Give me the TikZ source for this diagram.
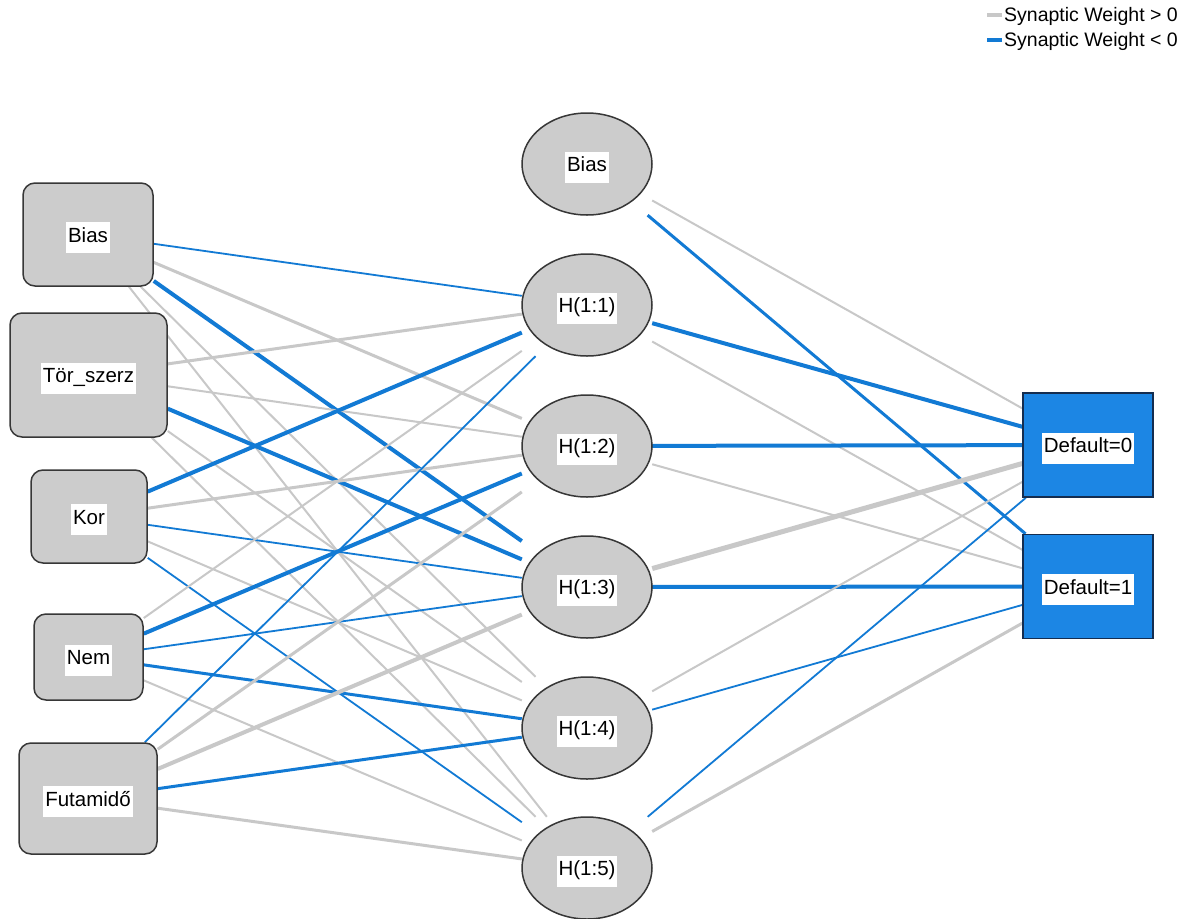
\documentclass[tikz,border=0pt]{standalone}
\usepackage{fontspec}
\setmainfont{Liberation Sans}
\usetikzlibrary{shapes.geometric}
\definecolor{nodegray}{RGB}{204,204,204}
\definecolor{linegray}{RGB}{200,200,200}
\definecolor{wblue}{RGB}{18,122,212}
\definecolor{boxblue}{RGB}{28,134,228}
\definecolor{edgedark}{RGB}{55,55,55}
\definecolor{boxedge}{RGB}{20,45,80}
\newcommand{\wlbl}[1]{{\setlength{\fboxsep}{2pt}\raisebox{-3pt}[\height][\depth]{\colorbox{white}{\rule[-9pt]{0pt}{27pt}#1}}}}
\pgfdeclarelayer{bg}
\pgfsetlayers{bg,main}
\tikzset{
  inbox/.style={rectangle, draw=edgedark, line width=1.5pt, fill=nodegray, rounded corners=12pt, inner sep=0pt},
  hidbox/.style={rectangle, minimum width=130pt, minimum height=102pt, inner sep=0pt},
  hidshape/.style={ellipse, draw=edgedark, line width=1.5pt, fill=nodegray, minimum width=130pt, minimum height=102pt, inner sep=0pt},
  outbox/.style={rectangle, draw=boxedge, line width=1.5pt, fill=boxblue, minimum width=130pt, minimum height=104pt, inner sep=0pt},
  posA/.style={draw=linegray, line width=2pt},
  posB/.style={draw=linegray, line width=3pt},
  posC/.style={draw=linegray, line width=4pt},
  posD/.style={draw=linegray, line width=5pt},
  negA/.style={draw=wblue, line width=1.8pt},
  negB/.style={draw=wblue, line width=3pt},
  negC/.style={draw=wblue, line width=4pt},
  legtext/.style={anchor=base west, inner sep=0pt, font=\fontsize{19.5}{22}\selectfont}
}
\begin{document}
\begin{tikzpicture}[x=1pt, y=-1pt, font=\fontsize{20.5}{24}\selectfont]
\useasboundingbox (0,0) rectangle (1195,919);

% input layer
\node[inbox, minimum width=130pt, minimum height=103pt] (i0) at (88,234.5) {\wlbl{Bias}};
\node[inbox, minimum width=157pt, minimum height=124pt] (i1) at (88.5,375) {\wlbl{Tör\_szerz}};
\node[inbox, minimum width=116pt, minimum height=93pt] (i2) at (89,516.5) {\wlbl{Kor}};
\node[inbox, minimum width=109pt, minimum height=86pt] (i3) at (88.5,657) {\wlbl{Nem}};
\node[inbox, minimum width=138pt, minimum height=111pt] (i4) at (88,798.5) {\wlbl{Futamidő}};

% hidden layer (clipping boxes and visible ellipses)
\foreach \k/\yy in {0/164,1/305,2/446,3/587,4/728,5/868} {
  \node[hidbox] (hb\k) at (587,\yy) {};
}
\node[hidshape] (h0) at (hb0) {\wlbl{Bias}};
\node[hidshape] (h1) at (hb1) {\wlbl{H(1:1)}};
\node[hidshape] (h2) at (hb2) {\wlbl{H(1:2)}};
\node[hidshape] (h3) at (hb3) {\wlbl{H(1:3)}};
\node[hidshape] (h4) at (hb4) {\wlbl{H(1:4)}};
\node[hidshape] (h5) at (hb5) {\wlbl{H(1:5)}};

% output layer
\node[outbox] (o0) at (1088,445) {\wlbl{Default=0}};
\node[outbox] (o1) at (1088,586.5) {\wlbl{Default=1}};

\begin{pgfonlayer}{bg}
\fill[white] (0,0) rectangle (1195,919);
% input -> hidden
\draw[negA] (i0) -- (hb1);
\draw[posB] (i0) -- (hb2);
\draw[negC] (i0) -- (hb3);
\draw[posA] (i0) -- (hb4);
\draw[posA] (i0) -- (hb5);

\draw[posB] (i1) -- (hb1);
\draw[posA] (i1) -- (hb2);
\draw[negC] (i1) -- (hb3);
\draw[posA] (i1) -- (hb4);
\draw[posA] (i1) -- (hb5);

\draw[negC] (i2) -- (hb1);
\draw[posB] (i2) -- (hb2);
\draw[negA] (i2) -- (hb3);
\draw[posA] (i2) -- (hb4);
\draw[negA] (i2) -- (hb5);

\draw[posA] (i3) -- (hb1);
\draw[negC] (i3) -- (hb2);
\draw[negA] (i3) -- (hb3);
\draw[negB] (i3) -- (hb4);
\draw[posA] (i3) -- (hb5);

\draw[negA] (i4) -- (hb1);
\draw[posB] (i4) -- (hb2);
\draw[posC] (i4) -- (hb3);
\draw[negB] (i4) -- (hb4);
\draw[posB] (i4) -- (hb5);

% hidden -> output
\draw[posA] (hb0) -- (o0);
\draw[negB] (hb0) -- (o1);
\draw[negC] (hb1) -- (o0);
\draw[posA] (hb1) -- (o1);
\draw[negC] (hb2) -- (o0);
\draw[posA] (hb2) -- (o1);
\draw[posD] (hb3) -- (o0);
\draw[negC] (hb3) -- (o1);
\draw[posA] (hb4) -- (o0);
\draw[negA] (hb4) -- (o1);
\draw[negA] (hb5) -- (o0);
\draw[posB] (hb5) -- (o1);
\end{pgfonlayer}

% legend
\coordinate (lg0a) at (987,15);
\coordinate (lg0b) at (1002,15);
\coordinate (lg1a) at (987,40);
\coordinate (lg1b) at (1002,40);
\draw[posC] (lg0a) -- (lg0b);
\draw[negC] (lg1a) -- (lg1b);
\node[legtext] (lt0) at (1004,21) {Synaptic Weight > 0};
\node[legtext] (lt1) at (1004,46) {Synaptic Weight < 0};
\end{tikzpicture}
\end{document}
